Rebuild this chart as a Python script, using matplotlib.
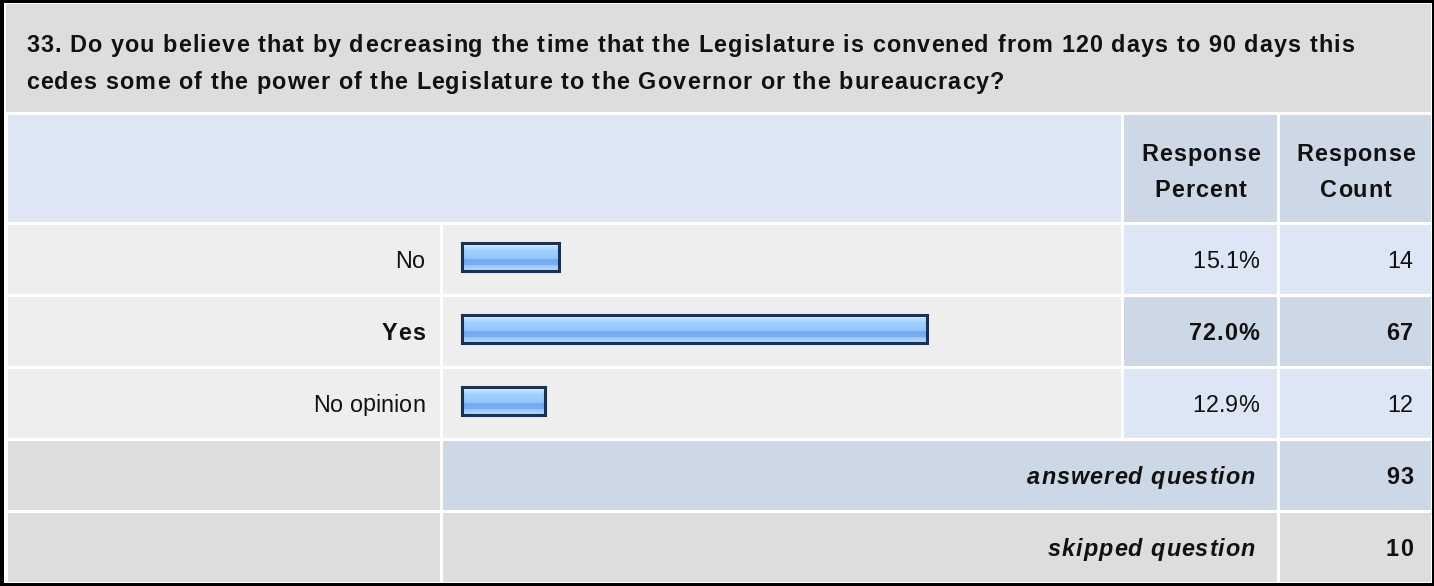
import numpy as np
import matplotlib
matplotlib.use("Agg")
import matplotlib.pyplot as plt
from matplotlib.patches import Rectangle
from matplotlib.colors import to_rgb
from matplotlib.font_manager import FontProperties, findfont
from matplotlib.ft2font import FT2Font

plt.rcParams['font.family'] = ['Liberation Sans', 'DejaVu Sans']

## Survey data
question = ["33. Do you believe that by decreasing the time that the Legislature is convened from 120 days to 90 days this",
            "cedes some of the power of the Legislature to the Governor or the bureaucracy?"]
answers = ["No", "Yes", "No opinion"]
percents = [15.1, 72.0, 12.9]
counts = [14, 67, 12]
answered = 93
skipped = 10
col_headers = [["Response", "Percent"], ["Response", "Count"]]

## colours
TITLE_BG = "#DDDDDD"
HEAD_BG = "#DCE6F4"
HEAD_DARK = "#CCD8E6"
ROW_BG = "#EEEEEE"
TXT = "#111111"
FS = 16.8
DPI = 100

W, H = 1434, 586
fig = plt.figure(figsize=(W / DPI, H / DPI), dpi=DPI)
bg = fig.add_axes([0, 0, 1, 1])
bg.set_xlim(0, W)
bg.set_ylim(H, 0)
bg.axis("off")

def cell(x0, x1, y0, y1, color):
    bg.add_patch(Rectangle((x0, y0), x1 - x0, y1 - y0, facecolor=color, edgecolor="none"))

## text with a bit of letter spacing (the old browser rendering is looser than matplotlib's)
def put(x, y, s, size=FS, bold=False, italic=False, ha="left", track=0.0):
    fp = FontProperties(family="Liberation Sans", weight="bold" if bold else "normal",
                        style="italic" if italic else "normal", size=size)
    ft = FT2Font(findfont(fp))
    ft.set_size(size, DPI)
    adv = []
    for ch in s:
        g = ft.load_char(ord(ch))
        adv.append(g.linearHoriAdvance / 65536 + track)
    total = sum(adv) - track
    if ha == "right":
        x = x - total
    elif ha == "center":
        x = x - total / 2
    for ch, a in zip(s, adv):
        if ch != " ":
            bg.text(x, y, ch, fontproperties=fp, color=TXT, ha="left", va="baseline")
        x += a

# outer frame
cell(0, W, 0, H, "black")
cell(4, W - 2, 3, H - 3, "white")

# column and row edges (pixels)
cx = [(8, 440), (443, 1121), (1124, 1277), (1280, 1431)]
ry_title = (4, 112)
ry_head = (115, 222)
ry_rows = [(225, 294), (297, 366), (369, 438)]
ry_ans = (441, 510)
ry_skip = (513, 582)

# title
cell(6, 1431, ry_title[0], ry_title[1], TITLE_BG)
for line, yb in zip(question, [52, 89]):
    put(26, yb, line, size=16.8, bold=True, track=1.1)

# header
cell(cx[0][0], cx[1][1], ry_head[0], ry_head[1], HEAD_BG)
for (x0, x1), h in zip(cx[2:], col_headers):
    cell(x0, x1, ry_head[0], ry_head[1], HEAD_DARK)
    for line, yb in zip(h, [161, 197]):
        put((x0 + x1) / 2, yb, line, bold=True, ha="center", track=1.0)

# answer rows
imax = int(np.argmax(percents))
for i, (y0, y1) in enumerate(ry_rows):
    top = (i == imax)
    tr = 1.0 if top else 0.0
    cell(cx[0][0], cx[0][1], y0, y1, ROW_BG)
    cell(cx[1][0], cx[1][1], y0, y1, ROW_BG)
    pc = HEAD_DARK if top else HEAD_BG
    cell(cx[2][0], cx[2][1], y0, y1, pc)
    cell(cx[3][0], cx[3][1], y0, y1, pc)
    yb = (y0 + y1) / 2 + 8
    put(425, yb, answers[i], bold=top, ha="right", track=tr)
    put(1259, yb, f"{percents[i]:.1f}%", bold=top, ha="right", track=tr)
    put(1413, yb, str(counts[i]), bold=top, ha="right", track=tr)

# answered / skipped rows
cell(cx[0][0], cx[0][1], ry_ans[0], ry_ans[1], TITLE_BG)
cell(cx[1][0], cx[2][1], ry_ans[0], ry_ans[1], HEAD_DARK)
cell(cx[3][0], cx[3][1], ry_ans[0], ry_ans[1], HEAD_DARK)
cell(cx[0][0], cx[0][1], ry_skip[0], ry_skip[1], TITLE_BG)
cell(cx[1][0], cx[2][1], ry_skip[0], ry_skip[1], TITLE_BG)
cell(cx[3][0], cx[3][1], ry_skip[0], ry_skip[1], TITLE_BG)
for (y0, y1), lab, val in [(ry_ans, "answered question", answered), (ry_skip, "skipped question", skipped)]:
    yb = (y0 + y1) / 2 + 8.5
    put(1255, yb, lab, bold=True, italic=True, ha="right", track=1.0)
    put(1413, yb, str(val), bold=True, ha="right", track=1.0)

## bar axes: 0% at x=461.5 px, 100% at x=1108.5 px
bx0, bx1 = cx[1]
by0, by1 = 221, 437
axb = fig.add_axes([bx0 / W, 1 - by1 / H, (bx1 - bx0) / W, (by1 - by0) / H])
px = 100 / 647
xlim = (-(461.5 - bx0) * px, (bx1 - 461.5) * px)
axb.axis("off")
axb.patch.set_alpha(0)

stripes = ["#D2EAFF", "#D2EAFF", "#B8DCFF", "#B0D8FF", "#A2D0FF", "#9CCDFF", "#9ACCFF", "#9ACCFF",
           "#96C9FE", "#92C6FC", "#76ACF2", "#72A9F0", "#74AAF1", "#7AAFF3", "#8EC3FC", "#9CCDFF",
           "#A8D4FF", "#A8D4FF"]
grad = np.array([to_rgb(c) for c in stripes])[:, None, :]
bh = 0.38
for i, p in enumerate(percents):
    axb.imshow(grad, extent=(0, p, i + bh / 2, i - bh / 2), aspect="auto",
               interpolation="nearest", zorder=2)
axb.barh(range(len(percents)), percents, height=bh, left=0, facecolor="none",
         edgecolor="#1C3152", linewidth=2.2, zorder=3)
axb.set_xlim(*xlim)
axb.set_ylim(2.5, -0.5)

plt.savefig("out.png", dpi=DPI)
plt.close()
